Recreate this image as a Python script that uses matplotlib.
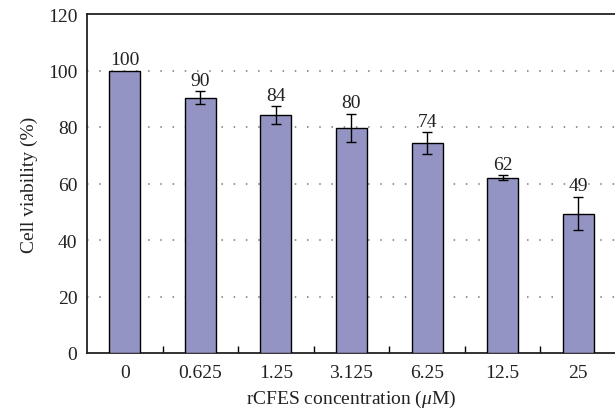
import matplotlib
matplotlib.use("Agg")
import matplotlib.pyplot as plt
import numpy as np

# Cell viability after rCFES treatment
concentrations = ["0", "0.625", "1.25", "3.125", "6.25", "12.5", "25"]
viability = [100, 90.3, 84.2, 79.7, 74.2, 62.0, 49.3]
errors = [0.0, 2.3, 3.1, 4.9, 3.9, 0.9, 5.9]
bar_labels = ["100", "90", "84", "80", "74", "62", "49"]
y_ticks = [0, 20, 40, 60, 80, 100, 120]

plt.rcParams["font.family"] = ["Liberation Serif", "DejaVu Serif"]
plt.rcParams["mathtext.fontset"] = "custom"
plt.rcParams["mathtext.it"] = "Liberation Serif:italic"
plt.rcParams["mathtext.rm"] = "Liberation Serif"

fs = 14
txt = "#222222"

fig = plt.figure(figsize=(6.15, 4.14), dpi=100)
ax = fig.add_axes([87 / 615, 1 - 354 / 414, 529 / 615, 339 / 414])

x = np.arange(len(concentrations))
ax.bar(x, viability, width=0.41, color="#9494c4", edgecolor="black",
       linewidth=1.0, zorder=3)
ax.errorbar(x[1:], viability[1:], yerr=errors[1:], fmt="none", ecolor="black",
            elinewidth=1.0, capsize=3.3, capthick=1.0, zorder=4)

for xi, v, e, lab in zip(x, viability, errors, bar_labels):
    ax.annotate(lab, (xi, v + e), xytext=(0, 2), textcoords="offset points",
                ha="center", va="bottom", fontsize=fs, color=txt)

ax.set_xlim(-0.5, 6.5)
ax.set_ylim(0, 120)
ax.set_yticks(y_ticks)
ax.set_xticks(x)
ax.set_xticklabels(concentrations)
ax.set_xticks(x[:-1] + 0.5, minor=True)
ax.tick_params(axis="both", which="major", length=0, labelsize=fs, colors=txt)
ax.tick_params(axis="x", which="major", pad=8)
ax.tick_params(axis="y", which="major", pad=7)
ax.tick_params(axis="x", which="minor", direction="in", length=5, width=1.0)

for yv in y_ticks[1:-1]:
    ax.axhline(yv, color="#777777", linewidth=1.1, linestyle=(0, (1, 7)), zorder=1)

ax.spines["right"].set_visible(False)
for s in ["left", "bottom", "top"]:
    ax.spines[s].set_linewidth(1.3)
    ax.spines[s].set_color(txt)

ax.set_ylabel("Cell viability (%)", fontsize=fs, color=txt, labelpad=7)
ax.set_xlabel(r"rCFES concentration ($\mathit{\mu}$M)", fontsize=fs,
              color=txt, labelpad=5)

fig.savefig("out.png", dpi=100)
